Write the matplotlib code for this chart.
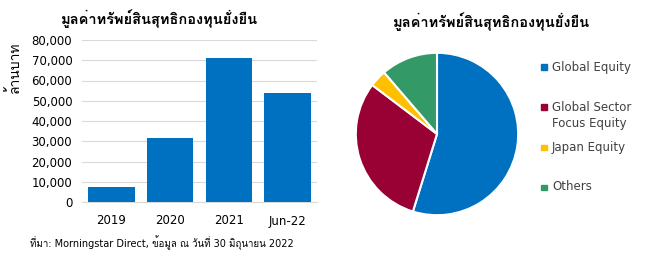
import matplotlib
matplotlib.use("Agg")
import matplotlib.pyplot as plt
from matplotlib.patches import Rectangle
from matplotlib.ticker import FuncFormatter

FONT = ['DejaVu Sans', 'Loma', 'Noto Sans Thai']
plt.rcParams['font.family'] = FONT

# ---- data ----
bar_title = "มูลค่าทรัพย์สินสุทธิกองทุนยั่งยืน"
bar_ylabel = "ล้านบาท"
bar_categories = ["2019", "2020", "2021", "Jun-22"]
bar_values = [7500, 31700, 71000, 53800]
y_ticks = [0, 10000, 20000, 30000, 40000, 50000, 60000, 70000, 80000]

pie_title = "มูลค่าทรัพย์สินสุทธิกองทุนยั่งยืน"
pie_labels = ["Global Equity", "Global Sector\nFocus Equity", "Japan Equity", "Others"]
pie_values = [54.8, 30.5, 3.4, 11.3]
pie_colors = ["#0070C0", "#990033", "#FFC000", "#339966"]

source = "ที่มา: Morningstar Direct, ข้อมูล ณ วันที่ 30 มิถุนายน 2022"

W, H = 655, 257
fig = plt.figure(figsize=(W / 100, H / 100), dpi=100)

def fx(px):
    return px / W

def fy(py):
    return 1 - py / H

# ---- bar chart ----
ax = fig.add_axes([fx(82), fy(202), fx(317) - fx(82), fy(40) - fy(202)])
x = range(len(bar_categories))
ax.bar(x, bar_values, width=0.79, color="#0070C0", zorder=3)
ax.set_xlim(-0.5, len(bar_categories) - 0.5)
ax.set_ylim(0, 80000)
ax.set_yticks(y_ticks)
ax.yaxis.set_major_formatter(FuncFormatter(lambda v, p: f"{int(v):,}"))
ax.set_xticks(list(x))
ax.set_xticklabels(bar_categories)
ax.grid(axis='y', color="#D9D9D9", linewidth=0.8, zorder=0)
for s in ['top', 'right', 'left']:
    ax.spines[s].set_visible(False)
ax.spines['bottom'].set_color("#D9D9D9")
ax.tick_params(axis='both', length=0, labelsize=8.5, colors="#000000")
ax.tick_params(axis='y', pad=7)
ax.tick_params(axis='x', pad=9)

fig.text(fx(160), fy(19), bar_title, ha='center', va='center', fontsize=10.5,
         fontweight='bold', family=FONT)
fig.text(fx(14), fy(67), bar_ylabel, ha='center', va='center', rotation=90,
         fontsize=10, family=FONT)
fig.text(fx(30), fy(243), source, ha='left', va='center', fontsize=7.0, family=FONT)

# ---- pie chart ----
pax = fig.add_axes([fx(437 - 82), fy(134 + 82), fx(164), fy(0) - fy(164)])
pax.pie(pie_values, colors=pie_colors, startangle=90, counterclock=False,
        wedgeprops=dict(edgecolor='white', linewidth=1.5))
pax.set_xlim(-1.01, 1.01)
pax.set_ylim(-1.01, 1.01)
pax.set_aspect('equal')

fig.text(fx(491), fy(22), pie_title, ha='center', va='center', fontsize=10.5,
         fontweight='bold', family=FONT)

legend_y = [67, 107, 147, 187]
for lab, col, ly in zip(pie_labels, pie_colors, legend_y):
    fig.add_artist(Rectangle((fx(541), fy(ly + 3)), fx(5.5), fy(0) - fy(5.5),
                             transform=fig.transFigure, color=col))
    for i, line in enumerate(lab.split('\n')):
        fig.text(fx(552), fy(ly + 16 * i), line, ha='left', va='center',
                 fontsize=8.5, family=FONT, color="#404040")

fig.savefig("out.png", dpi=100)
